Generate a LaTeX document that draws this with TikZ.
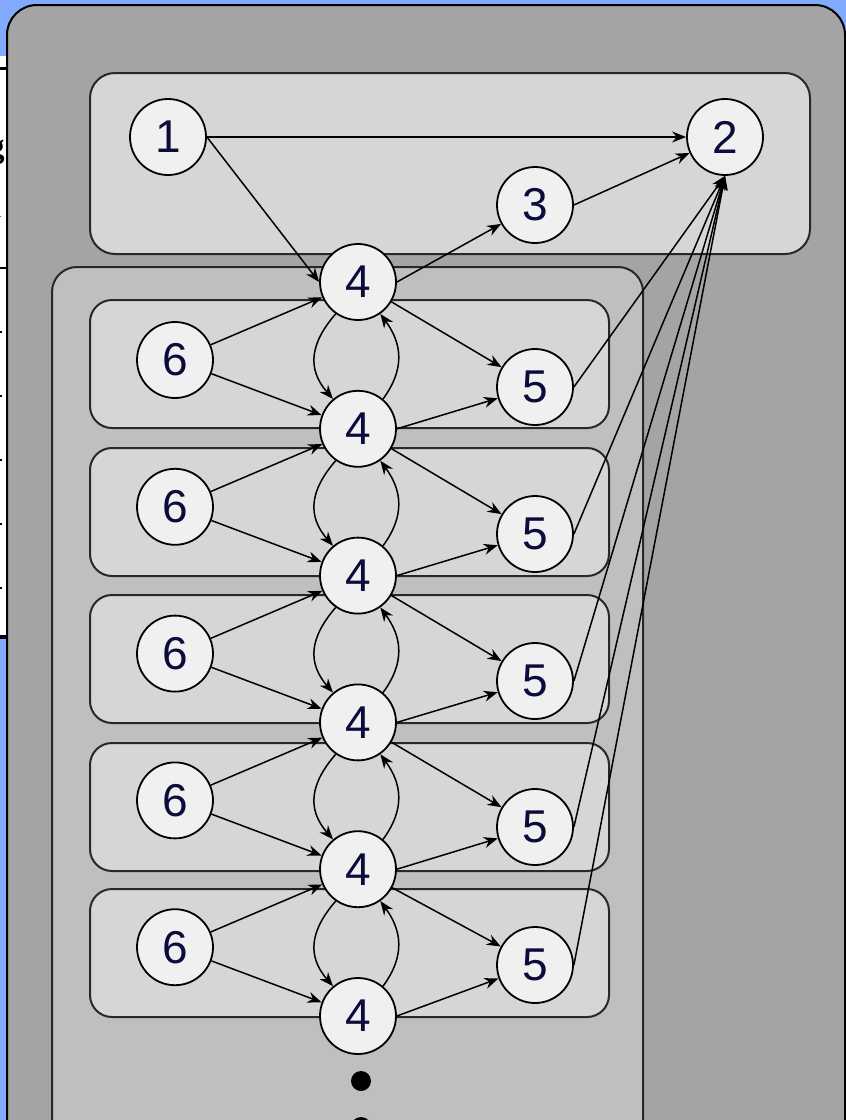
\documentclass[tikz,border=0pt]{standalone}
\usepackage{fontspec}
\setmainfont{Liberation Sans}
\newfontfamily\fragserif{Liberation Serif}
\usetikzlibrary{arrows.meta}
\definecolor{bgblue}{RGB}{130,170,255}
\definecolor{outerfill}{RGB}{164,164,164}
\definecolor{midfill}{RGB}{191,191,191}
\definecolor{lightfill}{RGB}{214,214,214}
\definecolor{nodefill}{RGB}{240,240,240}
\definecolor{navy}{RGB}{12,12,60}
\definecolor{boxline}{RGB}{40,40,40}
\begin{document}
\begin{tikzpicture}[x=1pt,y=-1pt,
  st/.style={circle,draw=black,line width=1.8pt,fill=nodefill,minimum size=76pt,inner sep=0pt,text=navy,font=\fontsize{46}{50}\selectfont},
  ar/.style={line width=1.5pt,-{Stealth[length=14pt,width=11pt]}},
  box/.style={draw=boxline,line width=2pt,rounded corners=25pt}]
\useasboundingbox (0,0) rectangle (846,1120);
\clip (0,0) rectangle (846,1120);
% background
\fill[bgblue] (0,0) rectangle (846,1120);
% left strip of the slide behind
\fill[white] (0,56) rectangle (8,636);
\begin{scope}
  \clip (0,56) rectangle (8,636);
  \node[anchor=base,font=\fragserif\bfseries\fontsize{34}{36}\selectfont,inner sep=0pt] at (-4,157) {g};
  \node[anchor=base,font=\fragserif\fontsize{30}{32}\selectfont,inner sep=0pt] at (-6,217) {n};
\end{scope}
\draw[line width=3pt] (0,68) -- (8,68);
\draw[line width=2pt] (0,268) -- (8,268);
\draw[line width=4pt] (0,637) -- (8,637);
\foreach \yy in {332,396,460,524,588} \fill (0,\yy-1) rectangle (2,\yy+1);
% big outer box
\draw[draw=black,line width=2pt,fill=outerfill,rounded corners=30pt] (7,5) rectangle (845,1220);
% top box
\draw[box,fill=lightfill] (90,73) rectangle (810,254);
% middle box
\draw[box,fill=midfill] (52,267) rectangle (643,1220);
% inner boxes
\foreach \yt in {300,448,595,743,889}
  \draw[box,fill=lightfill,rounded corners=22pt] (90,\yt) rectangle (609,\yt+128);
% nodes
\node[st] (n1) at (168,137) {1};
\node[st] (n2) at (725,137) {2};
\node[st] (n3) at (535,205) {3};
\foreach \k in {0,...,5} \node[st] (a\k) at (358,282+146.8*\k) {4};
\foreach \i in {1,...,5} \node[st] (s\i) at (175,360+146.8*\i-146.8) {6};
\foreach \i/\yy in {1/387,2/534,3/681,4/827,5/965} \node[st] (f\i) at (535,\yy) {5};
% dots
\fill (361,1081) circle (10);
\fill (361,1127) circle (10);
% edges
\draw[ar] (n1.east) -- (n2.west);
\draw[ar] (n1.east) -- (a0.west);
\draw[ar] (a0.east) -- (n3);
\draw[ar] (n3.east) -- (n2);
\foreach \i [evaluate=\i as \j using int(\i-1)] in {1,...,5} {
  \draw[ar] (s\i) -- (a\j);
  \draw[ar] (s\i) -- (a\i);
  \draw[ar] (a\j) -- (f\i);
  \draw[ar] (a\i.east) -- (f\i);
  \draw[ar] (f\i.east) -- (n2.south);
  \draw[ar] (a\j.235) .. controls +(-26,30) and +(-26,-30) .. (a\i.130);
  \draw[ar] (a\i.50) .. controls +(22,-30) and +(22,30) .. (a\j.305);
}
\end{tikzpicture}
\end{document}
